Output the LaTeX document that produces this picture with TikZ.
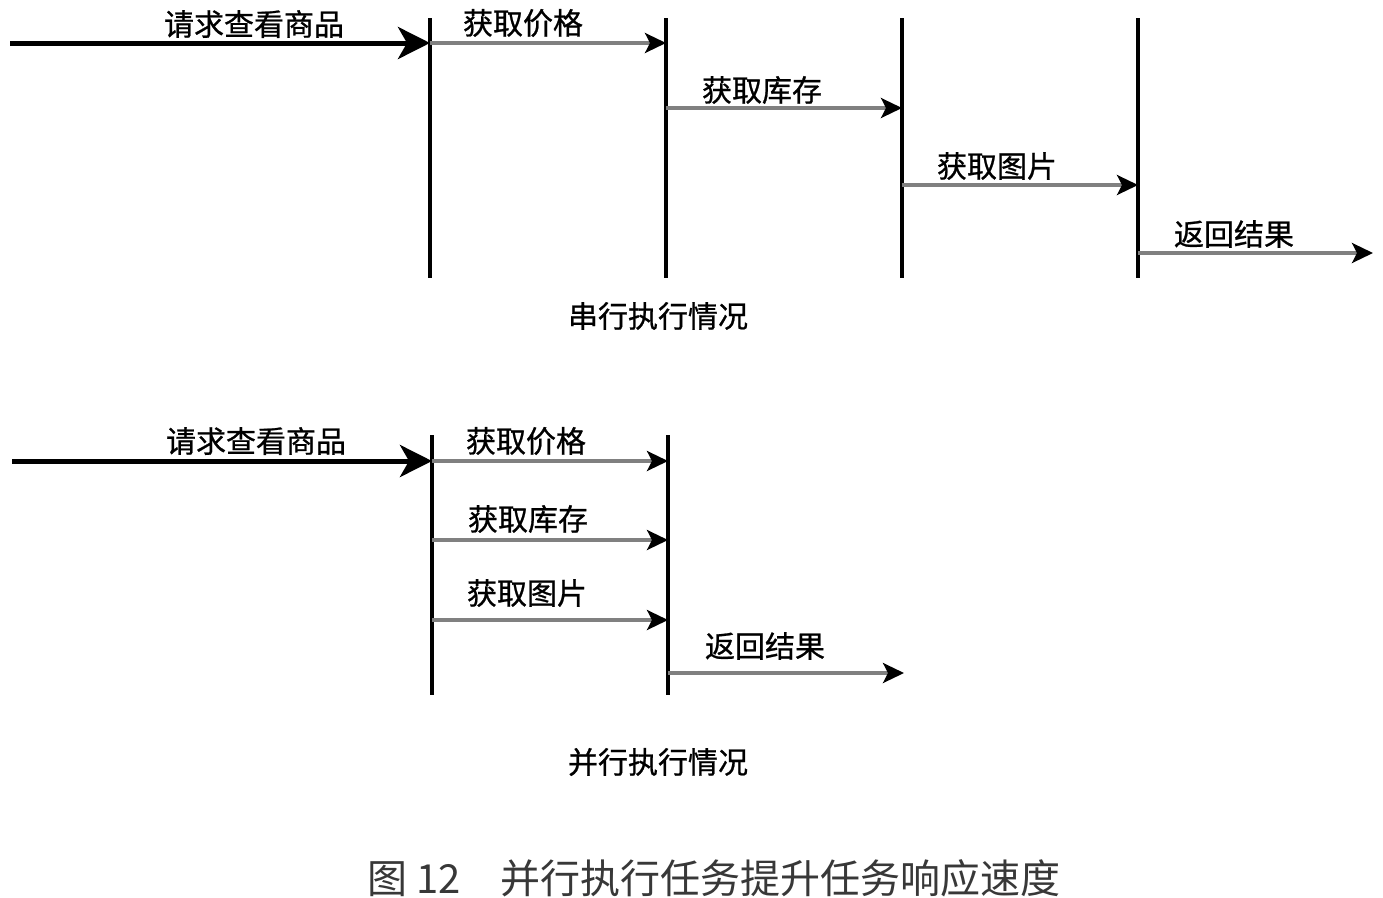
\documentclass[tikz,border=0pt]{standalone}
\usepackage{fontspec}
\setmainfont{Noto Sans CJK SC}
\newfontfamily\lblfont{Noto Sans CJK SC}[FakeBold=0.8]
\usetikzlibrary{arrows.meta}
\tikzset{
  lbl/.style={inner sep=0pt, font=\lblfont\fontsize{30}{34}\selectfont, text=black},
  ttl/.style={inner sep=0pt, font=\lblfont\fontsize{30}{34}\selectfont, text=black},
  figcaption/.style={inner sep=0pt, font=\fontsize{40}{46}\selectfont, text=black!78},
  vbar/.style={line width=4pt, black},
  bigarrow/.style={line width=5pt, black, -{Stealth[length=32pt,width=32pt,inset=9pt]}},
  garrow/.style={line width=3.3pt, black!50, -{Stealth[length=21pt,width=20pt,inset=5pt,color=black]}},
}
\begin{document}
\begin{tikzpicture}[x=1pt,y=-1pt]
\useasboundingbox[fill=white] (0,0) rectangle (1383,897);
% ---------- serial ----------
\foreach \n/\x in {a/430,b/666,c/902,d/1138}{
  \coordinate (s\n t) at (\x,18);
  \coordinate (s\n b) at (\x,278);
  \draw[vbar] (s\n t) -- (s\n b);
}
\coordinate (s0) at (10,43);
\coordinate (sa1) at (430,43);  \coordinate (sb1) at (666,43);
\coordinate (sb2) at (666,108); \coordinate (sc2) at (902,108);
\coordinate (sc3) at (902,185); \coordinate (sd3) at (1138,185);
\coordinate (sd4) at (1138,253); \coordinate (se4) at (1373,253);
\draw[bigarrow] (s0) -- (sa1);
\draw[garrow] (sa1) -- (sb1);
\draw[garrow] (sb2) -- (sc2);
\draw[garrow] (sc3) -- (sd3);
\draw[garrow] (sd4) -- (se4);
\node[lbl] (sl0) at (254,24) {请求查看商品};
\node[lbl] (sl1) at (523,23) {获取价格};
\node[lbl] (sl2) at (762,90) {获取库存};
\node[lbl] (sl3) at (997,166) {获取图片};
\node[lbl] (sl4) at (1234,234) {返回结果};
\node[ttl] (st) at (658,316) {串行执行情况};
% ---------- parallel ----------
\foreach \n/\x in {a/432,b/668}{
  \coordinate (p\n t) at (\x,435);
  \coordinate (p\n b) at (\x,695);
  \draw[vbar] (p\n t) -- (p\n b);
}
\coordinate (p0) at (12,461);
\coordinate (pa1) at (432,461); \coordinate (pb1) at (668,461);
\coordinate (pa2) at (432,540); \coordinate (pb2) at (668,540);
\coordinate (pa3) at (432,620); \coordinate (pb3) at (668,620);
\coordinate (pb4) at (668,673); \coordinate (pc4) at (904,673);
\draw[bigarrow] (p0) -- (pa1);
\draw[garrow] (pa1) -- (pb1);
\draw[garrow] (pa2) -- (pb2);
\draw[garrow] (pa3) -- (pb3);
\draw[garrow] (pb4) -- (pc4);
\node[lbl] (pl0) at (256,441) {请求查看商品};
\node[lbl] (pl1) at (526,441) {获取价格};
\node[lbl] (pl2) at (528,519) {获取库存};
\node[lbl] (pl3) at (527,593) {获取图片};
\node[lbl] (pl4) at (765,646) {返回结果};
\node[ttl] (pt) at (658,762) {并行执行情况};
% ---------- caption ----------
\node[figcaption] (caption) at (714,878) {图 12　并行执行任务提升任务响应速度};
\end{tikzpicture}
\end{document}
